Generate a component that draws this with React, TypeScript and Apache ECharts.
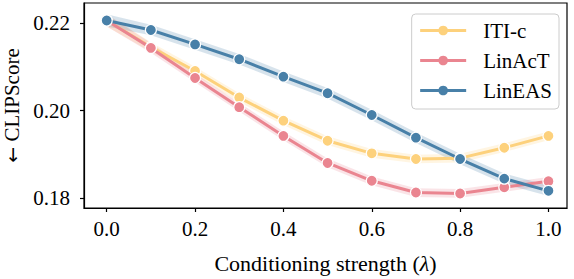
import React, { useEffect, useRef } from "react";
import * as echarts from "echarts";

const lambdas = [0, 0.1, 0.2, 0.3, 0.4, 0.5, 0.6, 0.7, 0.8, 0.9, 1.0];
const itiC = [0.2207, 0.2146, 0.2091, 0.203, 0.1977, 0.1931, 0.1902, 0.1889, 0.1891, 0.1915, 0.1942];
const linAcT = [0.2207, 0.2144, 0.2075, 0.2008, 0.1942, 0.188, 0.1839, 0.1812, 0.181, 0.1824, 0.1838];
const linEAS = [0.2207, 0.2185, 0.2152, 0.2118, 0.2078, 0.204, 0.199, 0.1938, 0.1889, 0.1844, 0.1816];
const itiCErr = [0.0014, 0.0011, 0.001, 0.001, 0.001, 0.001, 0.001, 0.001, 0.001, 0.001, 0.001];
const linAcTErr = [0.0014, 0.0011, 0.001, 0.001, 0.001, 0.001, 0.001, 0.001, 0.001, 0.001, 0.001];
const linEASErr = [0.0014, 0.0012, 0.0012, 0.0012, 0.0012, 0.0012, 0.0012, 0.0012, 0.0012, 0.0012, 0.0012];
const xTicks = [0, 0.2, 0.4, 0.6, 0.8, 1.0];
const yTicks = [0.18, 0.2, 0.22];

const seriesDefs = [
  { name: "ITI-c", values: itiC, err: itiCErr, color: "#FDD17C" },
  { name: "LinAcT", values: linAcT, err: linAcTErr, color: "#EA8590" },
  { name: "LinEAS", values: linEAS, err: linEASErr, color: "#4880A8" },
];

const FONT = "'Liberation Serif', 'Times New Roman', Times, serif";

export default function App() {
  const ref = useRef<HTMLDivElement>(null);
  useEffect(() => {
    if (!ref.current) return;
    const chart = echarts.init(ref.current, undefined, { renderer: "svg" });
    const series: any[] = [];
    seriesDefs.forEach((s) => {
      series.push({
        type: "custom",
        name: s.name + "-band",
        silent: true,
        z: 1,
        data: [[0]],
        renderItem: (params: any, api: any) => {
          const upper = lambdas.map((x, k) => api.coord([x, s.values[k] + s.err[k]]));
          const lower = lambdas.map((x, k) => api.coord([x, s.values[k] - s.err[k]])).reverse();
          return {
            type: "polygon",
            shape: { points: upper.concat(lower) },
            style: { fill: s.color, opacity: 0.22 },
          };
        },
      });
    });
    seriesDefs.forEach((s, i) => {
      series.push({
        type: "line",
        name: s.name,
        data: lambdas.map((x, k) => [x, s.values[k]]),
        symbol: "circle",
        symbolSize: 11,
        itemStyle: { color: s.color, borderColor: "#fff", borderWidth: 1.2 },
        lineStyle: { color: s.color, width: 3 },
        z: 3 + i,
      });
    });
    chart.setOption({
      animation: false,
      grid: {
        left: 84,
        top: 3,
        right: 7,
        bottom: 71,
        show: true,
        borderColor: "#000",
        borderWidth: 1.2,
        backgroundColor: "#fff",
        outerBoundsMode: "none",
      },
      legend: {
        data: seriesDefs.map((s) => s.name),
        orient: "vertical",
        right: 15,
        top: 14,
        itemWidth: 46,
        itemHeight: 12,
        itemGap: 9,
        padding: [6, 7, 8, 7],
        backgroundColor: "#fff",
        borderColor: "#cccccc",
        borderWidth: 1,
        borderRadius: 4,
        lineStyle: { width: 3 },
        itemStyle: { borderColor: "#fff", borderWidth: 0 },
        textStyle: { fontFamily: FONT, fontSize: 21, color: "#000", padding: [0, 0, 0, 12] },
      },
      xAxis: {
        type: "value",
        min: -0.0514,
        max: 1.042,
        name: "Conditioning strength ({i|λ})",
        nameLocation: "middle",
        nameGap: 44,
        nameTextStyle: {
          fontFamily: FONT,
          fontSize: 22,
          color: "#000",
          rich: { i: { fontFamily: FONT, fontSize: 22, fontStyle: "italic", color: "#000" } },
        },
        axisLine: { show: true, onZero: false, lineStyle: { color: "#000", width: 1.2 } },
        axisTick: { show: true, customValues: xTicks, length: 4, lineStyle: { color: "#000", width: 1.2 } },
        axisLabel: {
          customValues: xTicks,
          formatter: (v: number) => v.toFixed(1),
          fontFamily: FONT,
          fontSize: 21,
          color: "#000",
          margin: 10,
        },
        splitLine: { show: false },
      },
      yAxis: {
        type: "value",
        min: 0.17766,
        max: 0.2247,
        name: "{a|←} CLIPScore",
        nameLocation: "middle",
        nameRotate: 90,
        nameGap: 60,
        nameTextStyle: {
          fontFamily: FONT,
          fontSize: 21,
          color: "#000",
          rich: { a: { fontFamily: "'DejaVu Sans'", fontSize: 19, color: "#000" } },
        },
        axisLine: { show: true, onZero: false, lineStyle: { color: "#000", width: 1.2 } },
        axisTick: { show: true, customValues: yTicks, length: 4, lineStyle: { color: "#000", width: 1.2 } },
        axisLabel: {
          customValues: yTicks,
          formatter: (v: number) => v.toFixed(2),
          fontFamily: FONT,
          fontSize: 21,
          color: "#000",
          margin: 14,
        },
        splitLine: { show: false },
      },
      series,
    });
    return () => chart.dispose();
  }, []);
  return (
    <div
      ref={ref}
      style={{ position: "fixed", left: 0, top: 0, width: 574, height: 279, background: "#fff" }}
    />
  );
}
